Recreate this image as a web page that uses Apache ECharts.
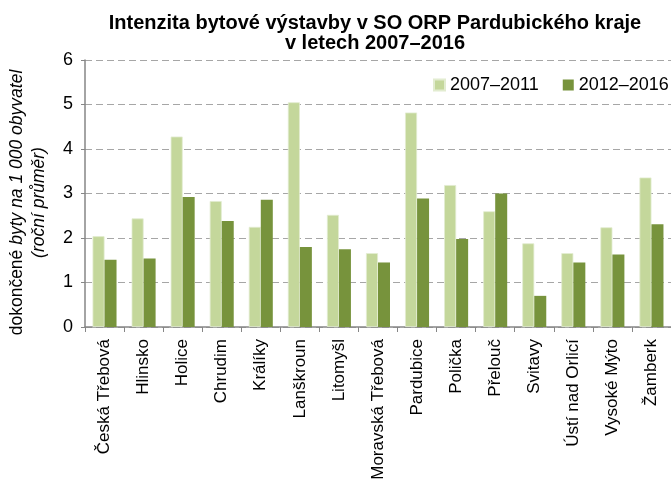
<!DOCTYPE html>
<html>
<head>
<meta charset="utf-8">
<script src="https://cdn.jsdelivr.net/npm/echarts@6/dist/echarts.min.js"></script>
<style>
  html, body { margin: 0; padding: 0; background: #fff; }
  #chart { width: 671px; height: 481px; }
</style>
</head>
<body>
<div id="chart"></div>
<script>
// SO ORP Pardubického kraje
var categories = ['Česká Třebová', 'Hlinsko', 'Holice', 'Chrudim', 'Králíky', 'Lanškroun', 'Litomyšl',
  'Moravská Třebová', 'Pardubice', 'Polička', 'Přelouč', 'Svitavy', 'Ústí nad Orlicí', 'Vysoké Mýto', 'Žamberk'];
var seriesNames = ['2007–2011', '2012–2016'];
var values0711 = [2.04, 2.44, 4.28, 2.83, 2.25, 5.05, 2.52, 1.66, 4.82, 3.19, 2.60, 1.88, 1.66, 2.24, 3.36];
var values1216 = [1.51, 1.54, 2.92, 2.38, 2.86, 1.80, 1.75, 1.45, 2.89, 1.98, 3.00, 0.70, 1.45, 1.63, 2.31];

var font = 'Arial, "Liberation Sans", sans-serif';
var axisGray = '#868686';

var myChart = echarts.init(document.getElementById('chart'));
myChart.setOption({
  animation: false,
  textStyle: { fontFamily: font },
  title: {
    text: 'Intenzita bytové výstavby v SO ORP Pardubického kraje\nv letech 2007–2016',
    left: 370,
    top: 8,
    textAlign: 'center',
    textStyle: { fontSize: 20, fontWeight: 'bold', color: '#000', lineHeight: 20.5, fontFamily: font }
  },
  legend: {
    data: seriesNames,
    left: 433,
    top: 76,
    padding: 0,
    itemWidth: 11,
    itemHeight: 11,
    itemGap: 24,
    icon: 'rect',
    textStyle: { fontSize: 18, color: '#000', fontFamily: font }
  },
  grid: {
    left: 85,
    right: 0,
    top: 60,
    bottom: 154,
    outerBoundsMode: 'none'
  },
  xAxis: {
    type: 'category',
    data: categories,
    axisLine: { lineStyle: { color: axisGray, width: 1.5 } },
    axisTick: { show: true, length: 5, lineStyle: { color: axisGray } },
    axisLabel: { rotate: 90, interval: 0, fontSize: 17, color: '#000', margin: 12, fontFamily: font }
  },
  yAxis: {
    type: 'value',
    min: 0,
    max: 6,
    interval: 1,
    name: '{u|dokončené} {i|byty na 1 000 obyvatel}\n{i|(roční průměr)}',
    nameLocation: 'middle',
    nameGap: 35,
    nameTextStyle: {
      fontSize: 17.5,
      color: '#000',
      lineHeight: 22,
      padding: [0, 18, 0, 0],
      rich: {
        u: { fontSize: 17.5, lineHeight: 22, color: '#000', fontFamily: font },
        i: { fontSize: 17.5, lineHeight: 22, color: '#000', fontStyle: 'italic', fontFamily: font }
      }
    },
    axisLine: { show: true, lineStyle: { color: axisGray, width: 1.5 } },
    axisTick: { show: true, length: 4, lineStyle: { color: axisGray } },
    axisLabel: { fontSize: 18, color: '#000', margin: 12, fontFamily: font },
    splitLine: { lineStyle: { color: '#a6a6a6', type: [7, 4], width: 1 } }
  },
  series: [
    {
      name: seriesNames[0],
      type: 'bar',
      data: values0711,
      barWidth: 12,
      barGap: '0%',
      itemStyle: { color: '#c4d79b', borderColor: '#e2ecd0', borderWidth: 0.8 }
    },
    {
      name: seriesNames[1],
      type: 'bar',
      data: values1216,
      barWidth: 12,
      barGap: '0%',
      itemStyle: { color: '#77933c' }
    }
  ]
});
</script>
</body>
</html>
